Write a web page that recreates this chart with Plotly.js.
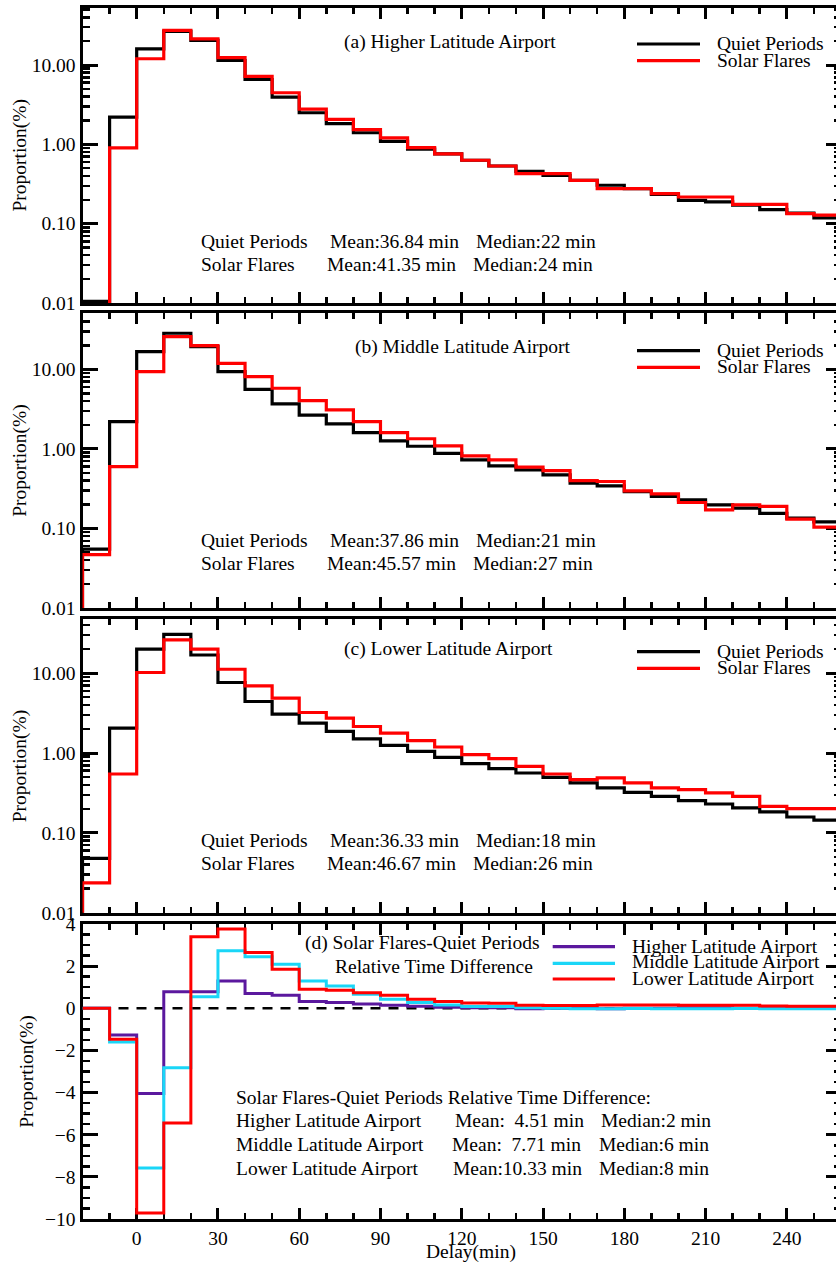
<!DOCTYPE html>
<html><head><meta charset="utf-8">
<script src="https://cdn.plot.ly/plotly-3.0.1.min.js"></script>
<style>html,body{margin:0;padding:0;overflow:hidden;background:#fff}</style>
</head><body><div id="chart" style="width:841px;height:1263px"></div>
<script>
// ---- data (10-min delay bins, edges in minutes) ----
const binEdges = [-20,-10,0,10,20,30,40,50,60,70,80,90,100,110,120,130,140,150,160,170,180,190,200,210,220,230,240,250,260];

// (a) Higher latitude airport, proportion (%)
const aQuiet = [0.0105,2.2,16.0,26.5,20.5,11.4,6.57,3.94,2.50,1.82,1.40,1.09,0.87,0.76,0.63,0.533,0.457,0.407,0.352,0.305,0.277,0.234,0.197,0.188,0.171,0.150,0.136,0.118];
const aFlare = [0.001,0.9,12.0,27.3,21.4,12.4,7.17,4.47,2.78,2.06,1.53,1.21,0.91,0.76,0.63,0.533,0.428,0.428,0.352,0.277,0.277,0.239,0.217,0.217,0.175,0.175,0.134,0.128];
// (b) Middle latitude airport
const bQuiet = [0.055,2.2,16.7,28.4,19.3,9.37,5.6,3.67,2.65,2.06,1.60,1.26,1.08,0.88,0.727,0.61,0.545,0.471,0.37,0.343,0.291,0.252,0.229,0.198,0.180,0.155,0.135,0.121];
const bFlare = [0.047,0.60,9.37,25.8,19.9,11.9,8.1,5.78,4.05,3.09,2.2,1.60,1.34,1.09,0.817,0.727,0.589,0.534,0.40,0.389,0.297,0.272,0.212,0.171,0.198,0.189,0.131,0.104];
// (c) Lower latitude airport
const cQuiet = [0.048,2.05,20,30.7,16.9,7.64,4.42,3.07,2.37,1.87,1.50,1.25,1.05,0.883,0.736,0.637,0.562,0.496,0.422,0.365,0.322,0.287,0.254,0.230,0.205,0.183,0.158,0.144];
const cFlare = [0.0237,0.546,10.2,26.1,20,11.2,6.95,4.87,3.22,2.74,2.15,1.78,1.43,1.19,0.953,0.85,0.681,0.546,0.464,0.487,0.422,0.365,0.348,0.316,0.287,0.215,0.201,0.201];
// (d) Solar flares - quiet periods difference (%)
const dHigher = [0,-1.27,-4.04,0.78,0.78,1.30,0.70,0.62,0.32,0.27,0.20,0.15,0.10,0.05,0.03,0.03,-0.02,0.0,0.0,-0.02,0.0,0.0,0.02,0.03,0.0,0.02,0.0,0.01];
const dMiddle = [0,-1.60,-7.58,-2.82,0.55,2.73,2.44,2.09,1.30,1.06,0.67,0.43,0.27,0.16,0.08,0.08,0.02,0.0,-0.02,-0.02,-0.01,-0.02,-0.02,-0.02,-0.01,-0.02,-0.02,-0.02];
const dLower = [0,-1.47,-9.71,-5.44,3.39,3.76,2.65,1.85,0.90,0.86,0.74,0.62,0.43,0.32,0.25,0.24,0.14,0.13,0.13,0.16,0.16,0.16,0.15,0.15,0.15,0.11,0.10,0.10];

const LOG_FLOOR = 1e-4;   // stands for "no delay share" before the first bin (below log axis)
const yTickVals = [0.01,0.1,1,10];
const yTickText = ['0.01','0.10','1.00','10.00'];

// ---- geometry / style ----
const W = 841, H = 1263;
const px = x => x / W, py = y => 1 - y / H;
const FAM = '"Liberation Serif", "Times New Roman", Times, serif';
const FONT = {family: FAM, size: 19.5, color: '#000'};
const C = {quiet:'#000000', flare:'#ff0000', higher:'#5b189e', middle:'#1ad6f7', lower:'#ff0000'};

function stepTrace(vals, floor, color, xa, ya, width) {
  const x = [binEdges[0], ...binEdges];
  const y = [floor, ...vals, vals[vals.length - 1]];
  return {x, y, type:'scatter', mode:'lines', line:{shape:'hv', color, width: width || 3.2},
          xaxis: xa, yaxis: ya, hoverinfo:'skip', showlegend:false};
}

const traces = [
  stepTrace(aQuiet, LOG_FLOOR, C.quiet, 'x', 'y'),
  stepTrace(aFlare, LOG_FLOOR, C.flare, 'x', 'y'),
  stepTrace(bQuiet, LOG_FLOOR, C.quiet, 'x2', 'y2'),
  stepTrace(bFlare, LOG_FLOOR, C.flare, 'x2', 'y2'),
  stepTrace(cQuiet, LOG_FLOOR, C.quiet, 'x3', 'y3'),
  stepTrace(cFlare, LOG_FLOOR, C.flare, 'x3', 'y3'),
  {x:[binEdges[0], binEdges[binEdges.length-1]], y:[0,0], type:'scatter', mode:'lines',
   line:{color:'#000', width:2.5, dash:'10px,8px'}, xaxis:'x4', yaxis:'y4', hoverinfo:'skip', showlegend:false},
  stepTrace(dHigher, 0, C.higher, 'x4', 'y4', 3),
  stepTrace(dMiddle, 0, C.middle, 'x4', 'y4', 3),
  stepTrace(dLower, 0, C.lower, 'x4', 'y4', 3)
];

const minorLog = [];
[-2,-1,0,1].forEach(d => { for (let k = 2; k <= 9; k++) minorLog.push(+(k * Math.pow(10, d)).toPrecision(3)); });

const xDomain = [82.5 / W, 1];
function xAxis(anchor, labels) {
  return {domain: xDomain, anchor, range:[-20,260], tickmode:'linear', tick0:0, dtick:30,
    ticks:'inside', ticklen:11, tickwidth:3, tickcolor:'#000',
    minor:{tickmode:'linear', tick0:0, dtick:10, ticks:'inside', ticklen:6, tickwidth:2.5, tickcolor:'#000', showgrid:false},
    showline:true, linewidth:3, linecolor:'#000', mirror:'allticks', showgrid:false, zeroline:false,
    showticklabels: labels, tickfont: FONT, layer:'below traces', fixedrange:true};
}
function yLog(top, bottom, topLog) {
  return {domain:[py(bottom), py(top)], type:'log', range:[-2, topLog],
    tickmode:'array', tickvals:yTickVals, ticktext:yTickText,
    ticks:'inside', ticklen:15, tickwidth:3, tickcolor:'#000',
    minor:{tickmode:'array', tickvals:minorLog, ticks:'inside', ticklen:7, tickwidth:2.5, tickcolor:'#000', showgrid:false},
    showline:true, linewidth:3, linecolor:'#000', mirror:'allticks', showgrid:false, zeroline:false,
    tickfont: FONT, title:{text:'Proportion(%)', font:FONT, standoff:0}, layer:'below traces', fixedrange:true};
}

const layout = {
  width: W, height: H, margin:{l:0, r:0, t:0, b:0}, paper_bgcolor:'#fff', plot_bgcolor:'#fff',
  showlegend:false, font: FONT,
  xaxis: xAxis('y', false), xaxis2: Object.assign(xAxis('y2', false), {matches:'x'}),
  xaxis3: Object.assign(xAxis('y3', false), {matches:'x'}),
  xaxis4: Object.assign(xAxis('y4', true), {matches:'x'}),
  yaxis: Object.assign(yLog(7.5, 303, 1.725), {anchor:'x'}),
  yaxis2: Object.assign(yLog(313, 608, 1.708), {anchor:'x2'}),
  yaxis3: Object.assign(yLog(619.3, 912.7, 1.675), {anchor:'x3'}),
  yaxis4: {domain:[py(1219), py(924)], anchor:'x4', range:[-10,4], tickmode:'linear', tick0:0, dtick:2,
    ticks:'inside', ticklen:15, tickwidth:3, tickcolor:'#000',
    minor:{tickmode:'linear', tick0:0, dtick:0.5, ticks:'inside', ticklen:7, tickwidth:2.5, tickcolor:'#000', showgrid:false},
    showline:true, linewidth:3, linecolor:'#000', mirror:'allticks', showgrid:false, zeroline:false,
    tickfont: FONT, title:{text:'Proportion(%)', font:FONT, standoff:7}, layer:'below traces', fixedrange:true},
  annotations: [], shapes: []
};

function txt(t, x, y, anchor) {
  layout.annotations.push({text:t, x:px(x), y:py(y), xref:'paper', yref:'paper', xanchor: anchor || 'left', yanchor:'middle',
    showarrow:false, font:FONT, align:'left'});
}
function legLine(x0, x1, y, color) {
  layout.shapes.push({type:'line', xref:'paper', yref:'paper', x0:px(x0), x1:px(x1), y0:py(y), y1:py(y),
    line:{color, width:3.2}});
}
const NB = '\u00a0';

// x-axis title of the shared delay axis
txt('Delay(min)', 471, 1252, 'center');

// panel titles + legends
const panels = [
  {title:'(a) Higher Latitude Airport', tx:341.7, ty:41.5, ly1:44, ly2:60.7,
   s:[['Quiet Periods','Mean:36.84 min','Median:22 min'],['Solar Flares','Mean:41.35 min','Median:24 min']], sy:[241.7,265]},
  {title:'(b) Middle Latitude Airport', tx:352.7, ty:347.3, ly1:350.7, ly2:367.3,
   s:[['Quiet Periods','Mean:37.86 min','Median:21 min'],['Solar Flares','Mean:45.57 min','Median:27 min']], sy:[540,564]},
  {title:'(c) Lower Latitude Airport', tx:341.7, ty:649.3, ly1:651.7, ly2:668.3,
   s:[['Quiet Periods','Mean:36.33 min','Median:18 min'],['Solar Flares','Mean:46.67 min','Median:26 min']], sy:[840,864]}
];
panels.forEach(p => {
  txt(p.title, p.tx, p.ty);
  legLine(637, 700, p.ly1, C.quiet); legLine(637, 700, p.ly2, C.flare);
  txt('Quiet Periods', 715, p.ly1); txt('Solar Flares', 715, p.ly2 - 0.5);
  txt(p.s[0][0], 199.3, p.sy[0]); txt(p.s[0][1], 328.3, p.sy[0]); txt(p.s[0][2], 474, p.sy[0]);
  txt(p.s[1][0], 199.3, p.sy[1]); txt(p.s[1][1], 325, p.sy[1]); txt(p.s[1][2], 471, p.sy[1]);
});

// panel d
txt('(d) Solar Flares-Quiet Periods', 303.3, 942.8);
txt('Relative Time Difference', 333.3, 966.5);
legLine(552.7, 615, 946.7, C.higher); legLine(552.7, 615, 963.3, C.middle); legLine(552.7, 615, 979, C.lower);
txt('Higher Latitude Airport', 630, 946); txt('Middle Latitude Airport', 630, 962); txt('Lower Latitude Airport', 630, 979);
txt('Solar Flares-Quiet Periods Relative Time Difference:', 234.3, 1097.5);
txt('Higher Latitude Airport', 234.3, 1120.5); txt('Mean:' + NB + NB + '4.51 min', 453.3, 1120.5); txt('Median:2 min', 599.3, 1120.5);
txt('Middle Latitude Airport', 234.3, 1144.8); txt('Mean:' + NB + NB + '7.71 min', 450, 1144.8); txt('Median:6 min', 596.7, 1144.8);
txt('Lower Latitude Airport', 234.3, 1168.5); txt('Mean:10.33 min', 450.7, 1168.5); txt('Median:8 min', 597.3, 1168.5);

Plotly.newPlot('chart', traces, layout, {displayModeBar:false, staticPlot:true});
</script></body></html>
